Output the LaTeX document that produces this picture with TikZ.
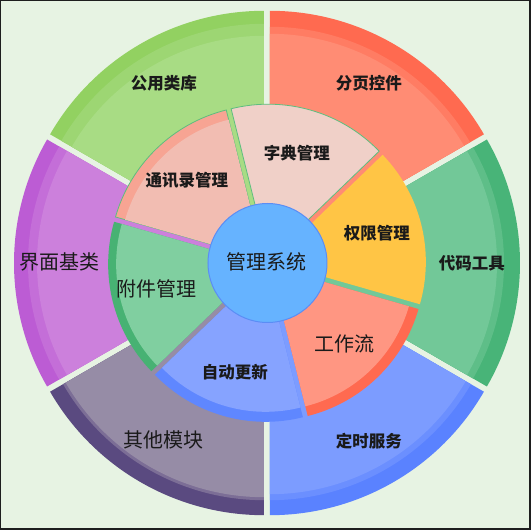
\documentclass[tikz,border=0pt]{standalone}
\usepackage{fontspec}
\usepackage{tikz}
\newfontfamily\cjk{Noto Sans CJK SC}

\definecolor{bgcol}{HTML}{E7F3E3}
\definecolor{framecol}{HTML}{1E1E1E}
\definecolor{txtcol}{HTML}{1A1A1A}
\definecolor{gongyongL}{HTML}{A8DC84}
\definecolor{gongyongM}{HTML}{9DD673}
\definecolor{gongyongD}{HTML}{92D161}
\definecolor{fenyeL}{HTML}{FF8C74}
\definecolor{fenyeM}{HTML}{FF7C63}
\definecolor{fenyeD}{HTML}{FF6A50}
\definecolor{daimaL}{HTML}{72C898}
\definecolor{daimaM}{HTML}{5EBE88}
\definecolor{daimaD}{HTML}{48B478}
\definecolor{dingshiL}{HTML}{7C9CFF}
\definecolor{dingshiM}{HTML}{6B8FFF}
\definecolor{dingshiD}{HTML}{5A82FF}
\definecolor{qitaL}{HTML}{968CA6}
\definecolor{qitaM}{HTML}{7C6E96}
\definecolor{qitaD}{HTML}{5A4A80}
\definecolor{jiemianL}{HTML}{CC80DC}
\definecolor{jiemianM}{HTML}{C46ED8}
\definecolor{jiemianD}{HTML}{BC5CD4}
\definecolor{zidianF}{HTML}{F0D0C8}
\definecolor{zidianE}{HTML}{5DBE7E}
\definecolor{tongxunF}{HTML}{F2BDB2}
\definecolor{tongxunD}{HTML}{F7A493}
\definecolor{fujianF}{HTML}{80CFA0}
\definecolor{fujianD}{HTML}{47B273}
\definecolor{zidongF}{HTML}{86A3FF}
\definecolor{zidongD}{HTML}{5F87FF}
\definecolor{gongzuoF}{HTML}{FF9682}
\definecolor{gongzuoD}{HTML}{FF6A50}
\definecolor{quanxianF}{HTML}{FFC545}
\definecolor{centerF}{HTML}{66B3FF}
\definecolor{centerE}{HTML}{5B8DF5}

% #1 options, #2 start angle, #3 end angle, #4 radius, #5 offset along the bisector
\newcommand\slice[5]{\path[#1,shift={({(#2+#3)/2}:#5)}] (0,0) -- (#2:#4) arc[start angle=#2,end angle=#3,radius=#4] -- cycle;}

\tikzset{
    lbl/.style={font=\cjk\bfseries\fontsize{16.5}{18}\selectfont, text=txtcol, inner sep=0pt},
    biglbl/.style={font=\cjk\fontsize{20}{22}\selectfont, text=txtcol, inner sep=0pt},
}

\begin{document}
\begin{tikzpicture}[x=1pt,y=1pt]

        \useasboundingbox (-267,-267) rectangle (264,263);
        \fill[bgcol] (-267,-267) rectangle (264,263);
        \draw[framecol, line width=1.5] (-266.25,-266.25) rectangle (263.25,262.25);

        % outer ring
        \slice{fill=fenyeD}{30}{90}{247}{6}
        \slice{fill=fenyeM}{30}{90}{231}{6}
        \slice{fill=fenyeL}{30}{90}{224}{6}
        \slice{fill=gongyongD}{90}{150}{247}{6}
        \slice{fill=gongyongM}{90}{150}{234}{6}
        \slice{fill=gongyongL}{90}{150}{222}{6}
        \slice{fill=jiemianD}{150}{210}{247}{6}
        \slice{fill=jiemianM}{150}{210}{233}{6}
        \slice{fill=jiemianL}{150}{210}{224}{6}
        \slice{fill=qitaD}{210}{270}{247}{6}
        \slice{fill=qitaM}{210}{270}{232}{6}
        \slice{fill=qitaL}{210}{270}{229}{6}
        \slice{fill=dingshiD}{270}{330}{247}{6}
        \slice{fill=dingshiM}{270}{330}{232}{6}
        \slice{fill=dingshiL}{270}{330}{226}{6}
        \slice{fill=daimaD}{330}{390}{247}{6}
        \slice{fill=daimaM}{330}{390}{231}{6}
        \slice{fill=daimaL}{330}{390}{224}{6}

        % inner ring
        \slice{fill=zidianF, draw=zidianE, line width=0.8}{44}{104}{154}{5}
        \slice{fill=tongxunD, draw=zidianE, line width=0.8}{104}{164}{154}{5}
        \slice{fill=tongxunF}{104}{164}{144}{5}
        \slice{fill=fujianD}{164}{224}{154}{5}
        \slice{fill=fujianF}{164}{224}{146}{5}
        \slice{fill=zidongD}{224}{284}{154}{5}
        \slice{fill=zidongF}{224}{284}{144}{5}
        \slice{fill=gongzuoD}{284}{344}{154}{5}
        \slice{fill=gongzuoF}{284}{344}{144}{5}
        \slice{fill=quanxianF}{344}{404}{154}{5}

        \filldraw[fill=centerF, draw=centerE, line width=1] (0.5,0) circle (59.5);

        \node[lbl] (fenye) at (102,180) {分页控件};
        \node[lbl] (gongyong) at (-103,180) {公用类库};
        \node[biglbl] (jiemian) at (-207,1) {界面基类};
        \node[biglbl] (qita) at (-103,-177) {其他模块};
        \node[lbl] (dingshi) at (102,-178) {定时服务};
        \node[lbl] (daima) at (205,0) {代码工具};
        \node[lbl] (zidian) at (30,110) {字典管理};
        \node[lbl] (tongxun) at (-80,83) {通讯录管理};
        \node[biglbl] (fujian) at (-110,-26) {附件管理};
        \node[lbl] (zidong) at (-32,-109) {自动更新};
        \node[biglbl] (gongzuo) at (78,-81) {工作流};
        \node[lbl] (quanxian) at (110,30) {权限管理};
        \node[biglbl] (center) at (0,1) {管理系统};

\end{tikzpicture}
\end{document}
